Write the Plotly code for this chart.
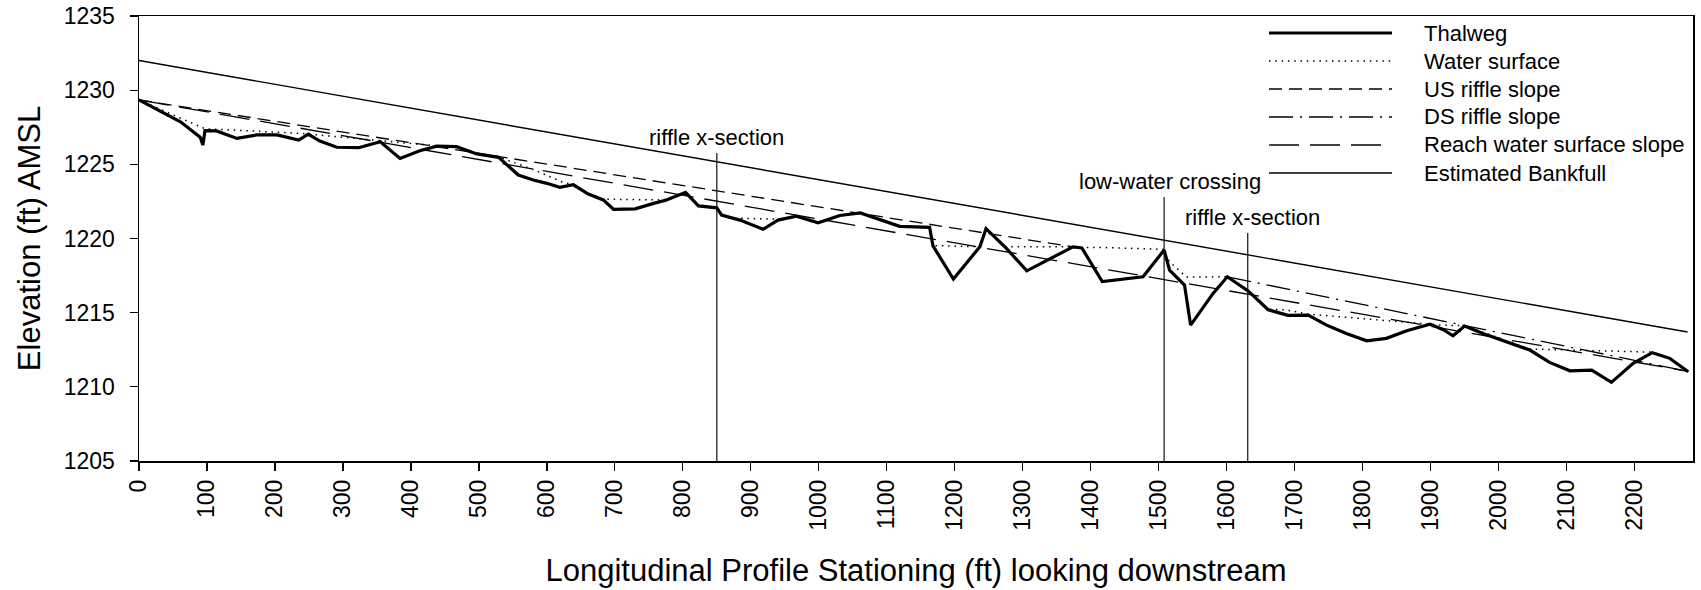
import plotly.graph_objects as go

# ---------------- data ----------------
station = [0, 61, 90, 94, 97, 114, 144, 173, 203, 235, 249, 266, 291, 323, 355, 384,
           413, 438, 467, 497, 529, 558, 580, 600, 619, 639, 661, 683, 698, 730, 757,
           776, 804, 823, 850, 857, 884, 918, 940, 967, 999, 1031, 1061, 1090, 1119,
           1163, 1168, 1198, 1237, 1246, 1276, 1306, 1340, 1374, 1387, 1417, 1477,
           1508, 1516, 1538, 1547, 1580, 1601, 1632, 1661, 1690, 1720, 1747, 1776,
           1806, 1835, 1865, 1899, 1918, 1933, 1950, 1977, 2012, 2046, 2075, 2105,
           2137, 2166, 2198, 2226, 2252, 2279]
thalweg = [1229.34, 1227.87, 1226.82, 1226.30, 1227.27, 1227.25, 1226.75, 1226.98,
           1226.98, 1226.64, 1227.04, 1226.57, 1226.15, 1226.12, 1226.52, 1225.40,
           1225.92, 1226.23, 1226.19, 1225.70, 1225.47, 1224.28, 1223.94, 1223.72,
           1223.45, 1223.62, 1223.00, 1222.60, 1221.97, 1222.00, 1222.37, 1222.60,
           1223.11, 1222.20, 1222.07, 1221.58, 1221.24, 1220.62, 1221.24, 1221.51,
           1221.06, 1221.55, 1221.72, 1221.29, 1220.82, 1220.75, 1219.50, 1217.27,
           1219.44, 1220.66, 1219.33, 1217.82, 1218.64, 1219.44, 1219.36, 1217.10,
           1217.42, 1219.22, 1217.87, 1216.86, 1214.16, 1216.30, 1217.42, 1216.45,
           1215.20, 1214.82, 1214.84, 1214.16, 1213.60, 1213.10, 1213.27, 1213.78,
           1214.23, 1213.87, 1213.44, 1214.10, 1213.60, 1213.04, 1212.48, 1211.65,
           1211.08, 1211.13, 1210.30, 1211.58, 1212.30, 1211.92, 1211.02]

ws_station = [0, 97, 237, 249, 293, 355, 425, 438, 467, 497, 529, 580, 624, 639, 661,
              683, 771, 804, 823, 850, 857, 870, 940, 967, 999, 1031, 1061, 1090, 1119,
              1163, 1168, 1237, 1246, 1276, 1374, 1387, 1413, 1507, 1516, 1541, 1601,
              1632, 1661, 1688, 1720, 1855, 1899, 1918, 1950, 1977, 2012, 2046, 2226,
              2252, 2279]
ws_elev = [1229.34, 1227.40, 1227.09, 1227.04, 1226.82, 1226.55, 1226.30, 1226.25,
           1226.20, 1225.75, 1225.50, 1224.65, 1223.78, 1223.65, 1223.04, 1222.65,
           1222.60, 1223.11, 1222.22, 1222.08, 1221.62, 1221.38, 1221.30, 1221.51,
           1221.10, 1221.56, 1221.72, 1221.30, 1220.84, 1220.76, 1219.52, 1219.45,
           1220.62, 1219.44, 1219.44, 1219.38, 1219.40, 1219.27, 1218.43, 1217.40,
           1217.42, 1216.50, 1215.25, 1215.18, 1214.90, 1214.39, 1214.25, 1214.15,
           1214.12, 1213.66, 1213.10, 1212.55, 1212.34, 1211.94, 1211.02]

us_station = [0, 1386]
us_elev = [1229.34, 1219.35]
ds_station = [1601, 2278]
ds_elev = [1217.42, 1211.05]
reach_station = [0, 2278]
reach_elev = [1229.34, 1211.05]
bank_station = [0, 2278]
bank_elev = [1232.0, 1213.7]

marker_station = [850, 1508, 1631]
marker_top = [1225.76, 1222.80, 1220.37]
marker_labels = ["riffle x-section", "low-water crossing", "riffle x-section"]

series_names = ["Thalweg", "Water surface", "US riffle slope", "DS riffle slope",
                "Reach water surface slope", "Estimated Bankfull"]

x_ticks = list(range(0, 2201, 100))
y_ticks = list(range(1205, 1236, 5))
x_range = [0, 2286]
y_range = [1205, 1235]

# ---------------- styling ----------------
FONT = "Liberation Sans, Arial, sans-serif"
W, H = 1701, 590
ML, MR, MT, MB = 139, 8, 16, 129
PLOT_L = ML
PLOT_R = W - MR
PLOT_T = MT
PLOT_B = H - MB

styles = {
    "Thalweg": dict(color="black", width=3.2, dash="solid"),
    "Water surface": dict(color="black", width=1.5, dash="1.5px,4.8px"),
    "US riffle slope": dict(color="black", width=1.3, dash="13px,7px"),
    "DS riffle slope": dict(color="black", width=1.3, dash="24px,7px,2px,7px"),
    "Reach water surface slope": dict(color="black", width=1.3, dash="30px,11px"),
    "Estimated Bankfull": dict(color="black", width=1.4, dash="solid"),
}

fig = go.Figure()

def add_line(x, y, name):
    fig.add_trace(go.Scatter(x=x, y=y, mode="lines", name=name, showlegend=False,
                             line=styles[name], hoverinfo="skip"))

add_line(bank_station, bank_elev, "Estimated Bankfull")
add_line(reach_station, reach_elev, "Reach water surface slope")
add_line(ds_station, ds_elev, "DS riffle slope")
add_line(us_station, us_elev, "US riffle slope")
add_line(ws_station, ws_elev, "Water surface")
add_line(station, thalweg, "Thalweg")

# vertical marker lines
vx, vy = [], []
for s, t in zip(marker_station, marker_top):
    vx += [s, s, None]
    vy += [y_range[0], t, None]
fig.add_trace(go.Scatter(x=vx, y=vy, mode="lines", showlegend=False,
                         line=dict(color="#111", width=1.2), hoverinfo="skip"))

annotations = []
label_shift = [0, 6, 5]
for s, t, lab, xs in zip(marker_station, marker_top, marker_labels, label_shift):
    annotations.append(dict(x=s, y=t, xref="x", yref="y", text=lab, showarrow=False,
                            xanchor="center", yanchor="bottom", yshift=1, xshift=xs,
                            font=dict(family=FONT, size=22, color="black")))

# custom legend (long line samples as in the original)
def px2x(px):
    return (px - PLOT_L) / (PLOT_R - PLOT_L)

def px2y(py):
    return (PLOT_B - py) / (PLOT_B - PLOT_T)

shapes = []
row0, rowstep = 33, 28
for i, name in enumerate(series_names):
    yy = px2y(row0 + i * rowstep)
    st = styles[name]
    shapes.append(dict(type="line", xref="paper", yref="paper",
                       x0=px2x(1269), x1=px2x(1392), y0=yy, y1=yy,
                       line=dict(color=st["color"], width=st["width"], dash=st["dash"])))
    annotations.append(dict(x=px2x(1422), y=yy, xref="paper", yref="paper", text=name,
                            showarrow=False, xanchor="left", yanchor="middle",
                            font=dict(family=FONT, size=22, color="black")))

fig.update_layout(
    width=W, height=H,
    margin=dict(l=ML, r=MR, t=MT, b=MB),
    paper_bgcolor="white", plot_bgcolor="white",
    font=dict(family=FONT, color="black"),
    shapes=shapes, annotations=annotations,
    showlegend=False,
)
fig.update_xaxes(range=x_range, tickvals=x_ticks, ticktext=[str(v) for v in x_ticks],
                 tickangle=-90, ticks="outside", ticklen=8, tickwidth=1.3,
                 tickcolor="black", showline=True, linecolor="black", linewidth=1.5,
                 mirror=True, showgrid=False, zeroline=False,
                 tickfont=dict(family=FONT, size=23, color="black"),
                 title=dict(text="Longitudinal Profile Stationing (ft) looking downstream",
                            font=dict(family=FONT, size=31, color="black"), standoff=29),
                 automargin=False)
fig.update_yaxes(range=y_range, tickvals=y_ticks, ticktext=[str(v) for v in y_ticks],
                 ticks="outside", ticklen=8, tickwidth=1.3, tickcolor="black",
                 showline=True, linecolor="black", linewidth=1.5, mirror=True,
                 showgrid=False, zeroline=False, ticklabelstandoff=10,
                 tickfont=dict(family=FONT, size=23, color="black"),
                 title=dict(text="Elevation (ft) AMSL",
                            font=dict(family=FONT, size=31, color="black"), standoff=14),
                 automargin=False)

# remove the default 8px page margin so the figure fills the window exactly
fig.write_html("out.html",
               config=dict(displayModeBar=False, staticPlot=True),
               post_script="document.body.style.margin='0';document.body.style.overflow='hidden';")
